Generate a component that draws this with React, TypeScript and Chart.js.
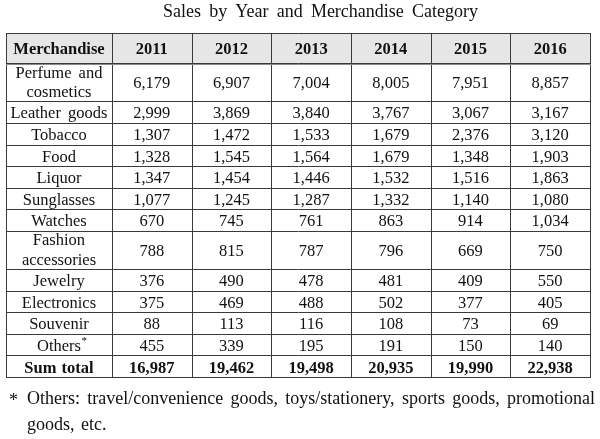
import React, { useEffect, useRef } from "react";
import { Chart, registerables } from "chart.js";

Chart.register(...registerables);

// ---------- data ----------
const TITLE = "Sales by Year and Merchandise Category";
const HEADER_FIRST = "Merchandise";
const YEARS = ["2011", "2012", "2013", "2014", "2015", "2016"];
const CATEGORIES: string[][] = [
  ["Perfume and", "cosmetics"],
  ["Leather goods"],
  ["Tobacco"],
  ["Food"],
  ["Liquor"],
  ["Sunglasses"],
  ["Watches"],
  ["Fashion", "accessories"],
  ["Jewelry"],
  ["Electronics"],
  ["Souvenir"],
  ["Others"],
];
const FOOTNOTED_CATEGORY = "Others";
const TOTAL_LABEL = "Sum total";

const SALES_2011 = [6179, 2999, 1307, 1328, 1347, 1077, 670, 788, 376, 375, 88, 455];
const SALES_2012 = [6907, 3869, 1472, 1545, 1454, 1245, 745, 815, 490, 469, 113, 339];
const SALES_2013 = [7004, 3840, 1533, 1564, 1446, 1287, 761, 787, 478, 488, 116, 195];
const SALES_2014 = [8005, 3767, 1679, 1679, 1532, 1332, 863, 796, 481, 502, 108, 191];
const SALES_2015 = [7951, 3067, 2376, 1348, 1516, 1140, 914, 669, 409, 377, 73, 150];
const SALES_2016 = [8857, 3167, 3120, 1903, 1863, 1080, 1034, 750, 550, 405, 69, 140];
const TOTALS = [16987, 19462, 19498, 20935, 19990, 22938];

const FOOTNOTE_MARK = "*";
const FOOTNOTE_LINES = [
  "Others: travel/convenience goods, toys/stationery, sports goods, promotional",
  "goods, etc.",
];

// ---------- layout (styles only) ----------
const SERIES = [SALES_2011, SALES_2012, SALES_2013, SALES_2014, SALES_2015, SALES_2016];
const FIRST_COL_W = 1.33;
const X_MAX = FIRST_COL_W + YEARS.length;
const HEADER_UNITS = 1.39;
const DOUBLE_UNITS = 1.78;
const ROW_UNITS = [
  HEADER_UNITS,
  ...CATEGORIES.map((l) => (l.length > 1 ? DOUBLE_UNITS : 1)),
  1,
];
const ROW_EDGES = ROW_UNITS.reduce<number[]>((acc, u) => {
  acc.push(acc[acc.length - 1] + u);
  return acc;
}, [0]);
const Y_MAX = ROW_EDGES[ROW_EDGES.length - 1];
const rowCenter = (r: number) => (ROW_EDGES[r] + ROW_EDGES[r + 1]) / 2;
const colCenter = (c: number) => FIRST_COL_W + c + 0.5;

const FONT = '"Liberation Serif", "Times New Roman", serif';
const CELL_PX = 16.5;
const TEXT = "#111111";
const LINE = "#3a3a3a";
const HEADER_BG = "#e6e6e6";

const fmt = (v: number) => v.toLocaleString("en-US");

function drawCentered(ctx: CanvasRenderingContext2D, text: string, cx: number, y: number, extraGap = 0) {
  const words = text.split(" ");
  const space = ctx.measureText(" ").width + extraGap;
  const widths = words.map((w) => ctx.measureText(w).width);
  const total = widths.reduce((a, b) => a + b, 0) + space * (words.length - 1);
  let x = cx - total / 2;
  ctx.textAlign = "left";
  words.forEach((w, i) => {
    ctx.fillText(w, x, y);
    x += widths[i] + space;
  });
  return cx + total / 2;
}

function drawJustified(ctx: CanvasRenderingContext2D, text: string, x0: number, x1: number, y: number) {
  const words = text.split(" ");
  const widths = words.map((w) => ctx.measureText(w).width);
  const sum = widths.reduce((a, b) => a + b, 0);
  const gap = words.length > 1 ? (x1 - x0 - sum) / (words.length - 1) : 0;
  let x = x0;
  ctx.textAlign = "left";
  words.forEach((w, i) => {
    ctx.fillText(w, x, y);
    x += widths[i] + gap;
  });
}

function drawLeft(ctx: CanvasRenderingContext2D, text: string, x0: number, y: number, extraGap = 0) {
  const words = text.split(" ");
  const space = ctx.measureText(" ").width + extraGap;
  let x = x0;
  ctx.textAlign = "left";
  words.forEach((w) => {
    ctx.fillText(w, x, y);
    x += ctx.measureText(w).width + space;
  });
}

const tablePlugin = {
  id: "tablePlugin",
  beforeDatasetsDraw(chart: any) {
    const ctx: CanvasRenderingContext2D = chart.ctx;
    const xs = chart.scales.x;
    const ys = chart.scales.y;
    const left = xs.getPixelForValue(0);
    const right = xs.getPixelForValue(X_MAX);
    const top = ys.getPixelForValue(0);
    const bottom = ys.getPixelForValue(Y_MAX);
    ctx.save();
    ctx.fillStyle = "#ffffff";
    ctx.fillRect(0, 0, chart.width, chart.height);
    ctx.fillStyle = HEADER_BG;
    ctx.fillRect(left, top, right - left, ys.getPixelForValue(ROW_EDGES[1]) - top);
    ctx.strokeStyle = LINE;
    ctx.lineWidth = 1;
    ctx.beginPath();
    ROW_EDGES.forEach((e) => {
      const y = Math.round(ys.getPixelForValue(e)) + 0.5;
      ctx.moveTo(left, y);
      ctx.lineTo(right + 1, y);
    });
    const colEdges = [0, ...YEARS.map((_, i) => FIRST_COL_W + i), X_MAX];
    colEdges.forEach((e) => {
      const x = Math.round(xs.getPixelForValue(e)) + 0.5;
      ctx.moveTo(x, top);
      ctx.lineTo(x, bottom + 1);
    });
    ctx.stroke();
    ctx.beginPath();
    const hy = Math.round(ys.getPixelForValue(ROW_EDGES[1])) + 1.5;
    ctx.moveTo(left, hy);
    ctx.lineTo(right + 1, hy);
    ctx.strokeStyle = "#8a8a8a";
    ctx.stroke();
    ctx.restore();
  },
  afterDatasetsDraw(chart: any) {
    const ctx: CanvasRenderingContext2D = chart.ctx;
    const xs = chart.scales.x;
    const ys = chart.scales.y;
    ctx.save();
    ctx.fillStyle = TEXT;
    ctx.textBaseline = "alphabetic";

    ctx.font = `bold ${CELL_PX}px ${FONT}`;
    const hyc = ys.getPixelForValue(rowCenter(0)) + 6.3;
    drawCentered(ctx, HEADER_FIRST, xs.getPixelForValue(FIRST_COL_W / 2), hyc);
    YEARS.forEach((yr, i) => drawCentered(ctx, yr, xs.getPixelForValue(colCenter(i)), hyc));

    ctx.font = `${CELL_PX}px ${FONT}`;
    const c0 = xs.getPixelForValue(FIRST_COL_W / 2);
    CATEGORIES.forEach((lines, j) => {
      const cy = ys.getPixelForValue(rowCenter(j + 1));
      if (lines.length === 1) {
        const end = drawCentered(ctx, lines[0], c0, cy + 6.3, 3);
        if (lines[0] === FOOTNOTED_CATEGORY) {
          ctx.font = `11px ${FONT}`;
          ctx.fillText(FOOTNOTE_MARK, end + 0.5, cy - 0.5);
          ctx.font = `${CELL_PX}px ${FONT}`;
        }
      } else {
        drawCentered(ctx, lines[0], c0, cy - 4.6, 3);
        drawCentered(ctx, lines[1], c0, cy + 15, 3);
      }
    });
    ctx.font = `bold ${CELL_PX}px ${FONT}`;
    drawCentered(ctx, TOTAL_LABEL, c0, ys.getPixelForValue(rowCenter(ROW_EDGES.length - 2)) + 6.3, 1);

    chart.data.datasets.forEach((ds: any, di: number) => {
      const meta = chart.getDatasetMeta(di);
      meta.data.forEach((el: any, j: number) => {
        const pt = ds.data[j];
        ctx.font = pt.total ? `bold ${CELL_PX}px ${FONT}` : `${CELL_PX}px ${FONT}`;
        drawCentered(ctx, fmt(pt.v), el.x, el.y + 6.3);
      });
    });

    ctx.font = `18px ${FONT}`;
    drawJustified(ctx, TITLE, 163, 478, 17);

    ctx.font = `18px ${FONT}`;
    ctx.textAlign = "left";
    ctx.fillText(FOOTNOTE_MARK, 9, 406);
    drawJustified(ctx, FOOTNOTE_LINES[0], 27, 595, 404);
    drawLeft(ctx, FOOTNOTE_LINES[1], 27, 430, 2);
    ctx.restore();
  },
};

export default function App() {
  const canvasRef = useRef<HTMLCanvasElement | null>(null);

  useEffect(() => {
    document.body.style.margin = "0";
    const canvas = canvasRef.current;
    if (!canvas) return;
    const datasets = YEARS.map((yr, i) => ({
      label: yr,
      data: [
        ...SERIES[i].map((v, j) => ({ x: colCenter(i), y: rowCenter(j + 1), v, total: false })),
        { x: colCenter(i), y: rowCenter(ROW_EDGES.length - 2), v: TOTALS[i], total: true },
      ],
      pointRadius: 0,
      pointHoverRadius: 0,
      showLine: false,
    }));
    const chart = new Chart(canvas, {
      type: "scatter",
      data: { datasets } as any,
      options: {
        responsive: false,
        animation: false,
        devicePixelRatio: 1,
        events: [],
        layout: { padding: { left: 6, right: 10, top: 33, bottom: 62 } },
        plugins: {
          legend: { display: false },
          tooltip: { enabled: false },
          title: { display: false },
        },
        scales: {
          x: { type: "linear", min: 0, max: X_MAX, display: false },
          y: { type: "linear", min: 0, max: Y_MAX, reverse: true, display: false },
        },
      } as any,
      plugins: [tablePlugin],
    });
    return () => chart.destroy();
  }, []);

  return (
    <div style={{ width: 600, height: 439 }}>
      <canvas ref={canvasRef} width={600} height={439} style={{ display: "block" }} />
    </div>
  );
}
